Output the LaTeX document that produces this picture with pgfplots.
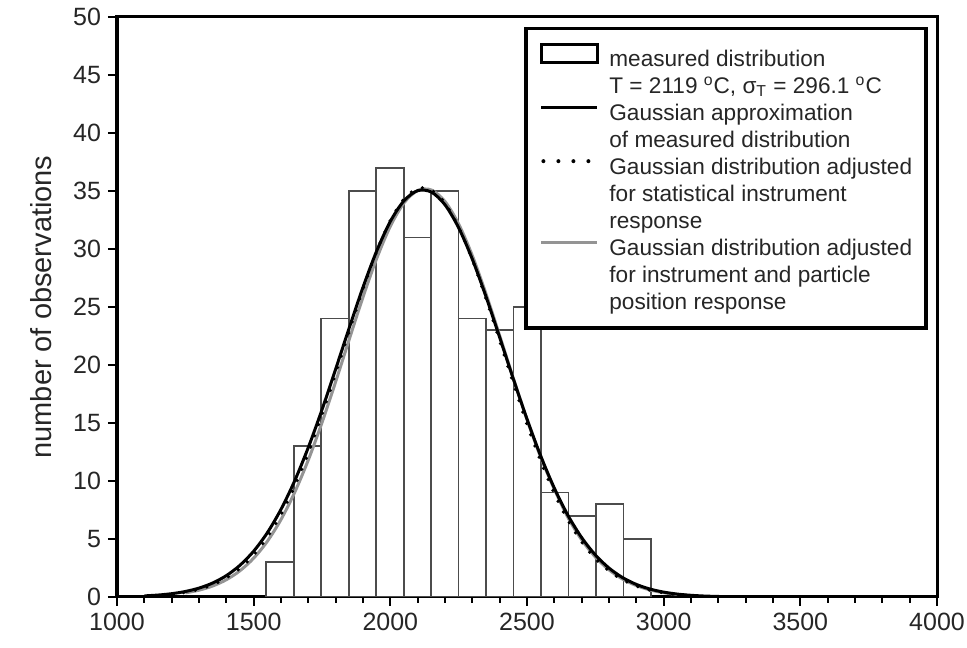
\documentclass[border=0pt]{standalone}
\usepackage{pgfplots}
\usepackage{pgfplotstable}
\pgfplotsset{compat=1.18}
\usepackage{fontspec}
\setmainfont{Liberation Sans}

% histogram: left bin edges and counts (last row closes the final bin)
\pgfplotstableread{
left count
1546 3
1647 13
1747 24
1848 35
1948 37
2049 31
2149 35
2250 24
2350 23
2451 25
2551 9
2652 7
2752 8
2853 5
2953 0
}\histdata

% Gaussian approximation of the measured distribution
\pgfplotstableread{
T n
1100 0.094
1150 0.166
1200 0.284
1250 0.473
1300 0.766
1350 1.204
1400 1.841
1450 2.735
1500 3.947
1550 5.540
1600 7.555
1650 10.012
1700 12.897
1750 16.146
1800 19.647
1850 23.232
1900 26.700
1950 29.824
2000 32.377
2050 34.160
2100 35.028
2150 34.908
2200 33.811
2250 31.827
2300 29.118
2350 25.891
2400 22.374
2450 18.791
2500 15.339
2550 12.168
2600 9.382
2650 7.030
2700 5.121
2750 3.624
2800 2.493
2850 1.667
2900 1.083
2950 0.684
3000 0.420
3050 0.250
3100 0.145
3150 0.080
3200 0.043
3250 0.022
}\gaussmeas

% adjusted for statistical instrument response
\pgfplotstableread{
T n
1200 0.233
1250 0.396
1300 0.654
1350 1.049
1400 1.633
1450 2.467
1500 3.617
1550 5.150
1600 7.116
1650 9.547
1700 12.431
1750 15.711
1800 19.276
1850 22.958
1900 26.542
1950 29.787
2000 32.450
2050 34.315
2100 35.224
2150 35.099
2200 33.949
2250 31.876
2300 29.053
2350 25.704
2400 22.076
2450 18.403
2500 14.893
2550 11.699
2600 8.921
2650 6.603
2700 4.745
2750 3.309
2800 2.240
2850 1.473
2900 0.940
2950 0.582
3000 0.350
3050 0.204
3100 0.115
}\gaussinstr

% adjusted for instrument and particle position response
\pgfplotstableread{
T n
1250 0.352
1300 0.587
1350 0.948
1400 1.487
1450 2.264
1500 3.346
1550 4.798
1600 6.676
1650 9.016
1700 11.818
1750 15.031
1800 18.558
1850 22.237
1900 25.857
1950 29.179
2000 31.960
2050 33.973
2100 35.047
2150 35.089
2200 34.095
2250 32.152
2300 29.426
2350 26.136
2400 22.531
2450 18.850
2500 15.305
2550 12.060
2600 9.293
2650 6.845
2700 4.931
2750 3.447
2800 2.339
2850 1.540
2900 0.984
2950 0.610
3000 0.367
3050 0.214
}\gausspos

\definecolor{txt}{gray}{0.15}
\definecolor{bargray}{gray}{0.3}
\definecolor{curvegray}{gray}{0.58}

\begin{document}
\begin{tikzpicture}
\begin{axis}[
  name=main,
  scale only axis,
  width=410pt, height=290pt,
  xmin=1000, xmax=4000, ymin=0, ymax=50,
  xtick={1000,1500,...,4000},
  ytick={0,5,...,50},
  minor x tick num=4,
  tick pos=left,
  tick align=outside,
  major tick length=4.5pt,
  minor tick length=3pt,
  every tick/.style={black, line width=0.9pt},
  axis line style={black, line width=1.5pt},
  /pgf/number format/assume math mode=true,
  /pgf/number format/set thousands separator={},
  ticklabel style={font=\fontsize{12.5}{15}\selectfont, text=txt},
  ylabel={number of observations},
  ylabel style={font=\fontsize{14.5}{17}\selectfont, text=txt, yshift=4pt},
  legend cell align=left,
  legend style={
    at={(0.989,0.983)}, anchor=north east,
    draw=black, line width=1.8pt, fill=white,
    font=\fontsize{11.3}{13.5}\selectfont,
    text=txt,
    inner xsep=7pt, inner ysep=7pt,
    row sep=2.5pt, column sep=5pt,
    nodes={inner sep=0pt, text height=8.5pt, text depth=2.5pt},
  },
]
\addplot[ybar interval, fill=white, draw=bargray, line width=0.8pt, forget plot]
  table[x=left, y=count] {\histdata};
\addplot[curvegray, line width=1.5pt, smooth, forget plot] table[x=T, y=n] {\gausspos};
\addplot[black, line width=1.8pt, dash pattern=on 0pt off 6pt, line cap=round, smooth, forget plot]
  table[x=T, y=n] {\gaussinstr};
\addplot[black, line width=1.5pt, smooth, forget plot] table[x=T, y=n] {\gaussmeas};

\addlegendimage{legend image code/.code={\draw[black, line width=1.5pt, fill=white] (0pt,-1pt) rectangle (28pt,8pt);}}
\addlegendentry{measured distribution}
\addlegendimage{empty legend}
\addlegendentry{T = 2119 \textsuperscript{o}C, σ\textsubscript{T} = 296.1 \textsuperscript{o}C}
\addlegendimage{legend image code/.code={\draw[black, line width=1.5pt] (0pt,3.5pt) -- (28pt,3.5pt);}}
\addlegendentry{Gaussian approximation}
\addlegendimage{empty legend}
\addlegendentry{of measured distribution}
\addlegendimage{legend image code/.code={\draw[black, line width=2pt, dash pattern=on 0pt off 7.5pt, line cap=round] (1pt,3.5pt) -- (28pt,3.5pt);}}
\addlegendentry{Gaussian distribution adjusted}
\addlegendimage{empty legend}
\addlegendentry{for statistical instrument}
\addlegendimage{empty legend}
\addlegendentry{response}
\addlegendimage{legend image code/.code={\draw[curvegray, line width=1.5pt] (0pt,3.5pt) -- (28pt,3.5pt);}}
\addlegendentry{Gaussian distribution adjusted}
\addlegendimage{empty legend}
\addlegendentry{for instrument and particle}
\addlegendimage{empty legend}
\addlegendentry{position response}
\end{axis}
\pgfresetboundingbox
\path[use as bounding box]
  ([shift={(-58.5pt,-25.5pt)}]main.south west) rectangle ([shift={(15pt,8.5pt)}]main.north east);
\end{tikzpicture}
\end{document}
